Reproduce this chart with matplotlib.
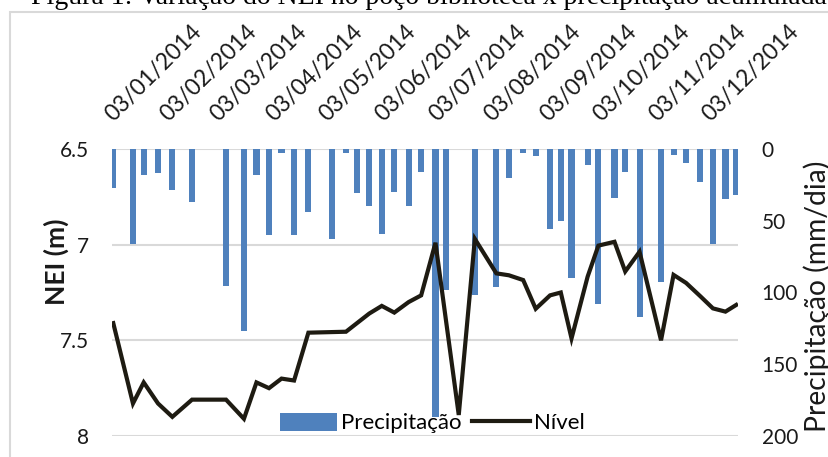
import matplotlib.pyplot as plt
import pandas as pd
from matplotlib.patches import Rectangle

plt.rcParams['font.family'] = ['Lato', 'DejaVu Sans']

# precipitation (mm/dia), bars hanging from the top
precip_dates = [
    "2014-01-03", "2014-01-14", "2014-01-20", "2014-01-28", "2014-02-05", "2014-02-16",
    "2014-03-07", "2014-03-17", "2014-03-24", "2014-03-31", "2014-04-07", "2014-04-14",
    "2014-04-22", "2014-05-05", "2014-05-13", "2014-05-19", "2014-05-26", "2014-06-02",
    "2014-06-09", "2014-06-17", "2014-06-24", "2014-07-02", "2014-07-08", "2014-07-24",
    "2014-08-05", "2014-08-12", "2014-08-20", "2014-08-27", "2014-09-04", "2014-09-10",
    "2014-09-16", "2014-09-25", "2014-10-01", "2014-10-10", "2014-10-16", "2014-10-24",
    "2014-11-05", "2014-11-12", "2014-11-19", "2014-11-27", "2014-12-04", "2014-12-11",
    "2014-12-17",
]
precip_mm = [
    27, 66, 18, 17, 28.5, 37,
    95.5, 127, 18, 60, 3, 60,
    44, 63, 3, 31, 40, 59,
    30, 40, 16, 187, 98, 102,
    96, 20, 3, 5, 56, 50,
    90, 11, 108, 34, 16, 117,
    93, 4, 9.5, 23, 66, 35,
    32,
]

# water level NEI (m)
level_dates = [
    "2014-01-03", "2014-01-14", "2014-01-20", "2014-01-28", "2014-02-05", "2014-02-16",
    "2014-03-07", "2014-03-17", "2014-03-24", "2014-03-31", "2014-04-07", "2014-04-14",
    "2014-04-22", "2014-05-13", "2014-05-26", "2014-06-02", "2014-06-09", "2014-06-17",
    "2014-06-24", "2014-07-02", "2014-07-15", "2014-07-24", "2014-08-05", "2014-08-12",
    "2014-08-20", "2014-08-27", "2014-09-04", "2014-09-10", "2014-09-16", "2014-09-25",
    "2014-10-01", "2014-10-10", "2014-10-16", "2014-10-24", "2014-11-05", "2014-11-12",
    "2014-11-19", "2014-11-27", "2014-12-04", "2014-12-11", "2014-12-17",
]
level_m = [
    7.41, 7.83, 7.72, 7.83, 7.90, 7.81,
    7.81, 7.91, 7.72, 7.75, 7.70, 7.71,
    7.46, 7.455, 7.36, 7.32, 7.355, 7.30,
    7.265, 6.99, 7.89, 6.97, 7.15, 7.16,
    7.185, 7.335, 7.265, 7.25, 7.49, 7.167,
    7.005, 6.985, 7.14, 7.037, 7.50, 7.158,
    7.20, 7.27, 7.333, 7.35, 7.315,
]

tick_dates = ["2014-%02d-03" % m for m in range(1, 13)]
tick_labels = ["03/%02d/2014" % m for m in range(1, 13)]

level_ticks = [6.5, 7, 7.5, 8]
level_tick_labels = ["6.5", "7", "7.5", "8"]
precip_ticks = [0, 50, 100, 150, 200]

title = "Figura 1: Variação do NEI no poço biblioteca x precipitação acumulada"

W, H = 829, 457
fig = plt.figure(figsize=(W / 100, H / 100), dpi=100)
pos = [112.3 / W, 1 - 436 / H, (738 - 112.3) / W, (436 - 149) / H]

# base axes: level scale, gridlines, dates on top
ax = fig.add_axes(pos)
ax.set_ylim(8, 6.5)
ax.set_yticks(level_ticks, level_tick_labels)
ax.grid(axis="y", color="#d9d9d9", lw=1.5)
ax.set_axisbelow(True)
ax.xaxis.tick_top()
ax.set_xticks(pd.to_datetime(tick_dates), tick_labels,
              rotation=45, ha="left", va="baseline", rotation_mode="anchor")
ax.tick_params(axis="x", length=0, pad=19.5, labelsize=16.5, colors="#1a1a1a")
ax.tick_params(axis="y", length=0, pad=16.5, labelsize=15, colors="#1a1a1a")
x0 = pd.Timestamp("2014-01-03") - pd.Timedelta(hours=13)
x1 = pd.Timestamp("2014-12-18")
ax.set_xlim(x0, x1)

# precipitation bars on the right scale
axp = ax.twinx()
axp.set_ylim(200, 0)
axp.set_yticks(precip_ticks)
axp.tick_params(axis="y", length=0, pad=17, labelsize=15, colors="#1a1a1a")
bars = axp.bar(pd.to_datetime(precip_dates), precip_mm, width=3.4, color="#4f81bd")

# level line on top of everything
axl = fig.add_axes(pos, sharex=ax, sharey=ax)
axl.axis("off")
axl.patch.set_visible(False)
line, = axl.plot(pd.to_datetime(level_dates), level_m, color="#1e1b12", lw=3.0,
                 solid_joinstyle="miter")
axl.set_xlim(x0, x1)

for a in (ax, axp):
    for s in a.spines.values():
        s.set_visible(False)

fig.text(56.5 / W, 1 - 261.5 / H, "NEI (m)", rotation=90, ha="center", va="center",
         fontsize=19, fontweight="bold", color="#1a1a1a")
fig.text(826.5 / W, 1 - 296.5 / H, "Precipitação (mm/dia)", rotation=90, ha="center",
         va="baseline", rotation_mode="anchor", fontsize=20.3, color="#1a1a1a")

fig.legend([bars, line], ["Precipitação", "Nível"], loc="center",
           bbox_to_anchor=(432 / W, 1 - 423 / H), ncol=2, frameon=False, fontsize=16,
           handlelength=2.6, handleheight=0.9, handletextpad=0.15, columnspacing=0.5,
           borderpad=0)

# chart frame and the caption cut off at the top
fig.add_artist(Rectangle((10.5 / W, -0.05), 1.1, 1 - 12 / H + 0.05, transform=fig.transFigure,
                         fill=False, edgecolor="#d9d9d9", lw=1.5))
fig.text(31 / W, 1 - 4 / H, title, family="Liberation Serif", fontsize=20,
         ha="left", va="baseline", color="black")

fig.savefig("out.png", dpi=100)
